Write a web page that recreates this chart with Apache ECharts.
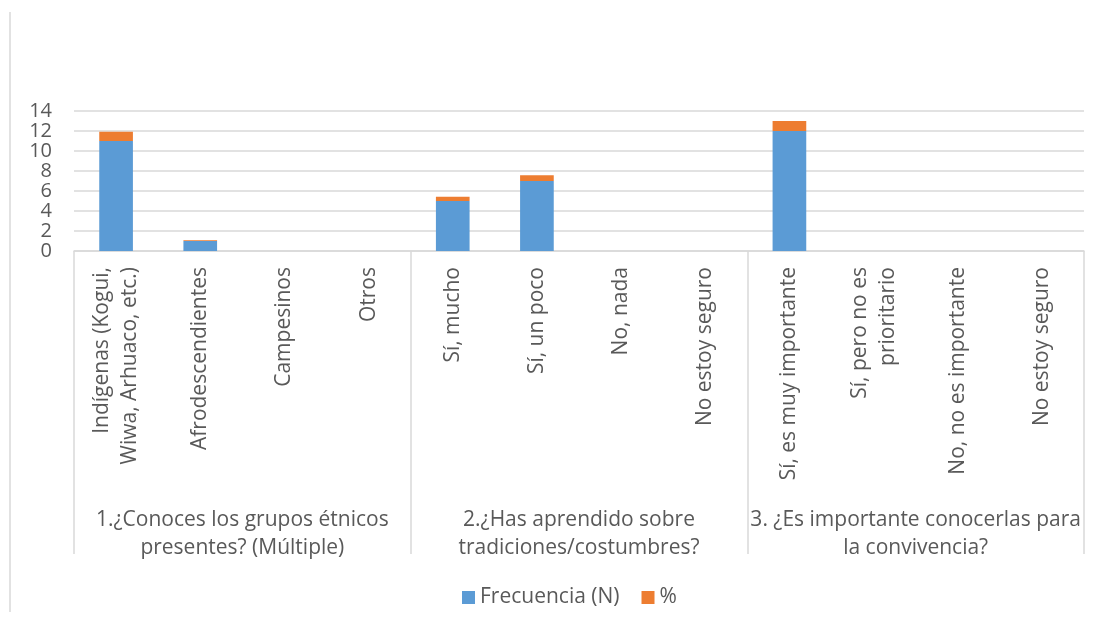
<!DOCTYPE html>
<html>
<head>
<meta charset="utf-8">
<script src="https://cdn.jsdelivr.net/npm/echarts@6/dist/echarts.min.js"></script>
<style>
    html, body { margin: 0; padding: 0; background: #fff; }
    #chart { width: 1100px; height: 625px; }
</style>
</head>
<body>
<div id="chart"></div>
<script>
    // categorias (una por barra) y preguntas (grupos)
    let categorias = [
        'Indígenas (Kogui,\nWiwa, Arhuaco, etc.)', 'Afrodescendientes', 'Campesinos', 'Otros',
        'Sí, mucho', 'Sí, un poco', 'No, nada', 'No estoy seguro',
        'Sí, es muy importante', 'Sí, pero no es\nprioritario', 'No, no es importante', 'No estoy seguro'
    ];
    let preguntas = [
        '1.¿Conoces los grupos étnicos\npresentes? (Múltiple)',
        '2.¿Has aprendido sobre\ntradiciones/costumbres?',
        '3. ¿Es importante conocerlas para\nla convivencia?'
    ];
    let frecuencia = [11, 1, 0, 0, 5, 7, 0, 0, 12, 0, 0, 0];
    let porcentaje = [0.92, 0.08, 0, 0, 0.42, 0.58, 0, 0, 1.0, 0, 0, 0];
    let yTicks = { min: 0, max: 14, interval: 2 };

    let gris = '#d9d9d9';
    let texto = '#595959';

    let chart = echarts.init(document.getElementById('chart'));
    let option = {
        animation: false,
        textStyle: { fontFamily: 'Open Sans' },
        grid: { left: 74, right: 16, top: 111, bottom: 374, containLabel: false },
        legend: {
            bottom: 12,
            left: 457,
            itemWidth: 13,
            itemHeight: 13,
            itemGap: 22,
            icon: 'rect',
            textStyle: { fontSize: 21, color: texto, fontFamily: 'Open Sans' },
            data: ['Frecuencia (N)', '%']
        },
        xAxis: [
            {
                type: 'category',
                data: categorias,
                axisLine: { show: true, lineStyle: { color: gris, width: 1.5 } },
                axisTick: { show: false },
                axisLabel: {
                    interval: 0,
                    rotate: 90,
                    margin: 16,
                    fontSize: 21,
                    lineHeight: 28,
                    color: texto,
                    fontFamily: 'Open Sans'
                }
            },
            {
                type: 'category',
                data: preguntas,
                position: 'bottom',
                axisLine: { show: false },
                axisTick: { show: true, interval: 0, length: 303, lineStyle: { color: gris, width: 1.5 } },
                axisLabel: {
                    interval: 0,
                    margin: 255,
                    fontSize: 21,
                    lineHeight: 28,
                    color: texto,
                    fontFamily: 'Open Sans'
                }
            }
        ],
        yAxis: {
            type: 'value',
            min: yTicks.min,
            max: yTicks.max,
            interval: yTicks.interval,
            axisLine: { show: false },
            axisTick: { show: false },
            splitLine: { lineStyle: { color: gris, width: 1.5 } },
            axisLabel: { fontSize: 20, color: texto, margin: 22, fontFamily: 'Open Sans' }
        },
        series: [
            {
                name: 'Frecuencia (N)',
                type: 'bar',
                stack: 'total',
                xAxisIndex: 0,
                barWidth: '40%',
                data: frecuencia,
                itemStyle: { color: '#5b9bd5' }
            },
            {
                name: '%',
                type: 'bar',
                stack: 'total',
                xAxisIndex: 0,
                barWidth: '40%',
                data: porcentaje,
                itemStyle: { color: '#ed7d31' }
            }
        ],
        graphic: [
            {
                type: 'line',
                shape: { x1: 10, y1: 12, x2: 10, y2: 612 },
                style: { stroke: gris, lineWidth: 1.5 }
            }
        ]
    };
    chart.setOption(option);
</script>
</body>
</html>
